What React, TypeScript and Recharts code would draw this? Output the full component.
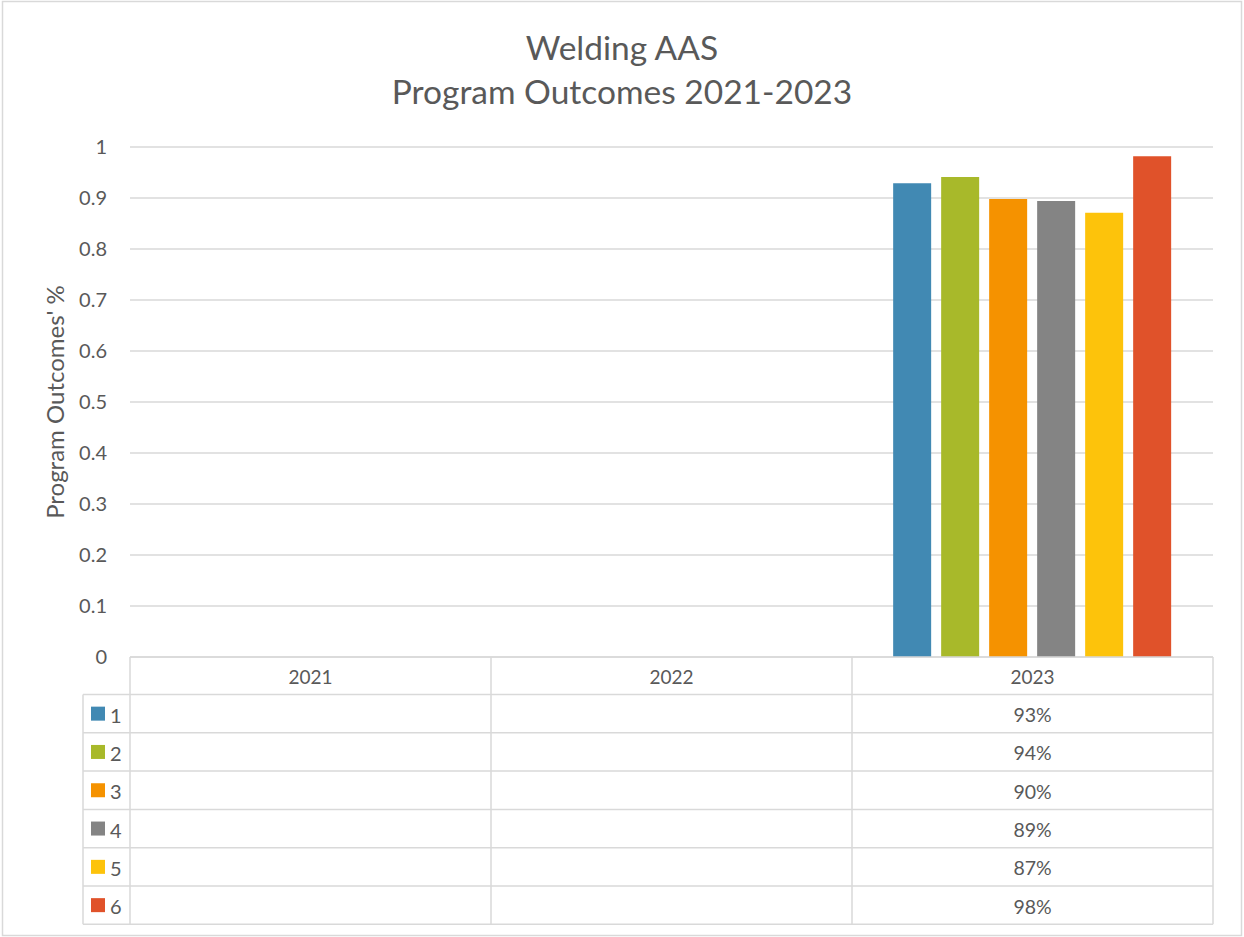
import React from 'react';
import { BarChart, Bar, XAxis, YAxis, CartesianGrid } from 'recharts';

// chart data
const categories = ['2021', '2022', '2023'];
const seriesNames = ['1', '2', '3', '4', '5', '6'];
const outcome1 = [null, null, 0.929];
const outcome2 = [null, null, 0.941];
const outcome3 = [null, null, 0.898];
const outcome4 = [null, null, 0.894];
const outcome5 = [null, null, 0.871];
const outcome6 = [null, null, 0.982];
const yTicks = [0, 0.1, 0.2, 0.3, 0.4, 0.5, 0.6, 0.7, 0.8, 0.9, 1];

const seriesValues = [outcome1, outcome2, outcome3, outcome4, outcome5, outcome6];
const seriesColors = ['#4189b3', '#a8b92a', '#f59200', '#848484', '#fdc30b', '#e0522a'];
const seriesKeys = seriesNames.map((_, i) => `s${i + 1}`);

const rows = categories.map((year, i) => {
  const row: Record<string, any> = { year };
  seriesKeys.forEach((k, s) => {
    row[k] = seriesValues[s][i];
  });
  return row;
});

const W = 1244;
const H = 937;
const FONT = 'Lato, "Open Sans", sans-serif';
const TEXT = '#595959';
const LINE = '#d9d9d9';
const PLOT_LEFT = 130;
const PLOT_RIGHT = 1213;
const PLOT_TOP = 147;
const PLOT_BOTTOM = 657;
const Y_AXIS_W = 60;
const X_AXIS_H = 268;
const HEADER_H = 37.5;
const ROW_H = 38.3;
const LEGEND_LEFT = 83;

const pct = (v: number | null) => (v == null ? '' : `${Math.round(v * 100)}%`);

// x axis tick draws one column of the data table
const TableTick = (props: any) => {
  const { x, y, payload, index } = props;
  const bw = (PLOT_RIGHT - PLOT_LEFT) / categories.length;
  const left = x - bw / 2;
  const right = x + bw / 2;
  const tableTop = y + HEADER_H;
  const bottom = tableTop + ROW_H * seriesNames.length;
  return (
    <g>
      <line x1={left} x2={right} y1={y} y2={y} stroke={LINE} strokeWidth={1.5} />
      <line x1={left} x2={left} y1={y} y2={bottom} stroke={LINE} strokeWidth={1.5} />
      {index === categories.length - 1 && (
        <line x1={right} x2={right} y1={y} y2={bottom} stroke={LINE} strokeWidth={1.5} />
      )}
      <text x={x} y={y + HEADER_H / 2 + 1} textAnchor="middle" dominantBaseline="central"
        fill={TEXT} fontSize={19} fontFamily={FONT}>{payload.value}</text>
      {seriesNames.map((name, s) => {
        const top = tableTop + ROW_H * s;
        return (
          <g key={name}>
            <line x1={left} x2={right} y1={top} y2={top} stroke={LINE} strokeWidth={1.5} />
            <text x={x} y={top + ROW_H / 2 + 1} textAnchor="middle" dominantBaseline="central"
              fill={TEXT} fontSize={19.5} fontFamily={FONT}>{pct(seriesValues[s][index])}</text>
          </g>
        );
      })}
      <line x1={left} x2={right} y1={bottom} y2={bottom} stroke={LINE} strokeWidth={1.5} />
      {index === 0 && (
        <g>
          <line x1={LEGEND_LEFT} x2={LEGEND_LEFT} y1={tableTop} y2={bottom} stroke={LINE} strokeWidth={1.5} />
          {seriesNames.map((name, s) => {
            const top = tableTop + ROW_H * s;
            return (
              <g key={name}>
                <line x1={LEGEND_LEFT} x2={left} y1={top} y2={top} stroke={LINE} strokeWidth={1.5} />
                <rect x={LEGEND_LEFT + 8} y={top + ROW_H / 2 - 7} width={14} height={14} fill={seriesColors[s]} />
                <text x={LEGEND_LEFT + 27} y={top + ROW_H / 2 + 1} dominantBaseline="central"
                  fill={TEXT} fontSize={20} fontFamily={FONT}>{name}</text>
              </g>
            );
          })}
          <line x1={LEGEND_LEFT} x2={left} y1={bottom} y2={bottom} stroke={LINE} strokeWidth={1.5} />
        </g>
      )}
    </g>
  );
};

const App: React.FC = () => {
  return (
    <div style={{ position: 'absolute', left: 0, top: 0, width: W, height: H, background: '#fff' }}>
      <BarChart
        width={W}
        height={H}
        data={rows}
        margin={{ top: PLOT_TOP, right: W - PLOT_RIGHT, bottom: H - PLOT_BOTTOM - X_AXIS_H, left: PLOT_LEFT - Y_AXIS_W }}
        barCategoryGap="11.4%"
        barGap={10}
      >
        <CartesianGrid vertical={false} stroke={LINE} strokeWidth={1.5} />
        <XAxis
          dataKey="year"
          height={X_AXIS_H}
          axisLine={false}
          tickLine={false}
          tickSize={0}
          tickMargin={0}
          interval={0}
          tick={<TableTick />}
        />
        <YAxis
          width={Y_AXIS_W}
          domain={[0, 1]}
          ticks={yTicks}
          axisLine={false}
          tickLine={false}
          tickSize={0}
          tickMargin={23}
          tick={{ fill: TEXT, fontSize: 20, fontFamily: FONT }}
        />
        {seriesKeys.map((k, s) => (
          <Bar key={k} dataKey={k} name={seriesNames[s]} fill={seriesColors[s]} isAnimationActive={false} />
        ))}
      </BarChart>
      <svg width={W} height={H} style={{ position: 'absolute', left: 0, top: 0, pointerEvents: 'none' }}>
        <rect x={2.5} y={1.5} width={1239} height={934} fill="none" stroke={LINE} strokeWidth={1.5} />
        <text x={622} y={60} textAnchor="middle" fill={TEXT} fontSize={33.5} fontFamily={FONT}>Welding AAS</text>
        <text x={622} y={104} textAnchor="middle" fill={TEXT} fontSize={33.5} fontFamily={FONT}>Program Outcomes 2021-2023</text>
        <text transform={`translate(64, ${(PLOT_TOP + PLOT_BOTTOM) / 2}) rotate(-90)`} textAnchor="middle"
          fill={TEXT} fontSize={24} fontFamily={FONT}>Program Outcomes' %</text>
      </svg>
    </div>
  );
};

export default App;
